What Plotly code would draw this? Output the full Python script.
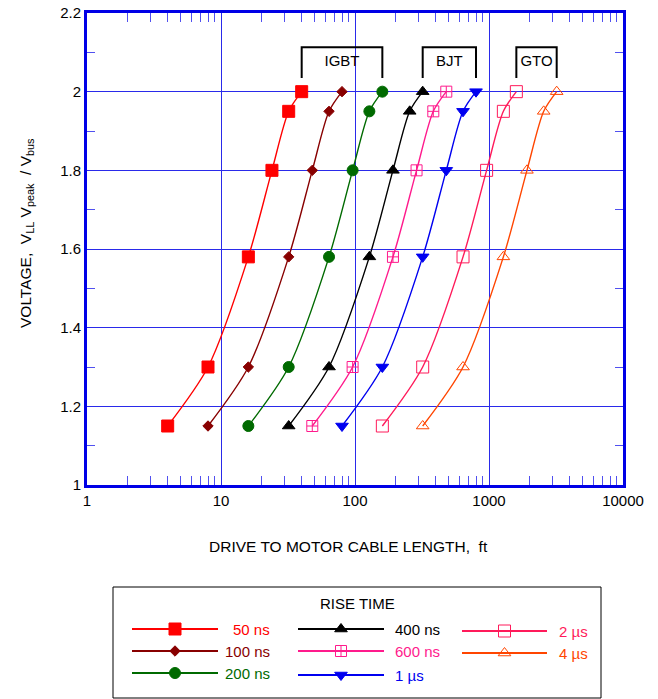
import plotly.graph_objects as go

# ---- data -------------------------------------------------------------
voltage = [1.15, 1.30, 1.58, 1.80, 1.95, 2.00]

rise_times = ["50 ns", "100 ns", "200 ns", "400 ns", "600 ns", "1 µs", "2 µs", "4 µs"]

len_50ns = [4, 8, 16, 24, 32, 40]
len_100ns = [8, 16, 32, 48, 64, 80]
len_200ns = [16, 32, 64, 96, 128, 160]
len_400ns = [32, 64, 128, 192, 256, 320]
len_600ns = [48, 96, 192, 288, 384, 480]
len_1us = [80, 160, 320, 480, 640, 800]
len_2us = [160, 320, 640, 960, 1280, 1600]
len_4us = [320, 640, 1280, 1920, 2560, 3200]

lengths = [len_50ns, len_100ns, len_200ns, len_400ns,
           len_600ns, len_1us, len_2us, len_4us]

x_tick_vals = [1, 10, 100, 1000, 10000]
x_tick_text = ["1", "10", "100", "1000", "10000"]

# device groups: label, first series index, last series index
device_groups = [("IGBT", 0, 2), ("BJT", 3, 5), ("GTO", 6, 7)]

# ---- styling ----------------------------------------------------------
colors = ["#ff0000", "#880000", "#006a00", "#000000",
          "#ff1a8c", "#0000f0", "#ff1a5a", "#ff4500"]
symbols = ["square", "diamond", "circle", "triangle-up",
           "square-cross-open", "triangle-down", "square-open", "triangle-up-open"]
sizes = [12, 8, 11, 11, 11, 11, 12, 11]

W, H = 658, 699
PX_L, PX_R, PX_T, PX_B = 87, 623, 13, 485
FONT = "Liberation Sans, Arial, sans-serif"
AXIS_BLUE = "#0000e6"
GRID_BLUE = "#2a2aea"

fig = go.Figure()

# curves
for name, xs, col, sym, sz in zip(rise_times, lengths, colors, symbols, sizes):
    fig.add_trace(go.Scatter(
        x=xs, y=voltage, mode="lines+markers", name=name,
        line=dict(color=col, width=1.4, shape="spline", smoothing=0.8),
        marker=dict(symbol=sym, size=sz, color=col,
                    line=dict(color=col, width=1)),
        showlegend=False,
    ))

# device brackets above the curve ends
br_lo, br_hi = 2.035, 2.113
for label, i0, i1 in device_groups:
    xa, xb = lengths[i0][-1], lengths[i1][-1]
    fig.add_trace(go.Scatter(
        x=[xa, xa, xb, xb], y=[br_lo, br_hi, br_hi, br_lo],
        mode="lines", line=dict(color="black", width=2),
        showlegend=False, hoverinfo="skip"))
    fig.add_trace(go.Scatter(
        x=[(xa * xb) ** 0.5], y=[2.075], mode="text", text=[label],
        textfont=dict(family=FONT, size=15, color="black"),
        textposition="middle center", showlegend=False, hoverinfo="skip"))

# ---- hand-built legend on a pixel overlay axis ------------------------
col_specs = [  # (line x0, line x1, text x, text anchor)
    (132, 218, 272, "right"),
    (298, 384, 393, "left"),
    (462, 547, 557, "left"),
]
entry_pos = [(0, 629), (0, 651), (0, 673),
             (1, 629), (1, 651), (1, 675),
             (2, 631), (2, 653)]

annotations = []
for k, (cidx, py) in enumerate(entry_pos):
    x0, x1, tx, anchor = col_specs[cidx]
    fig.add_trace(go.Scatter(
        x=[x0, x1], y=[py, py], mode="lines", xaxis="x2", yaxis="y2",
        line=dict(color=colors[k], width=2), showlegend=False, hoverinfo="skip"))
    fig.add_trace(go.Scatter(
        x=[(x0 + x1) / 2], y=[py], mode="markers", xaxis="x2", yaxis="y2",
        marker=dict(symbol=symbols[k], size=sizes[k], color=colors[k],
                    line=dict(color=colors[k], width=1)),
        showlegend=False, hoverinfo="skip"))
    annotations.append(dict(
        x=tx, y=py, xref="x2", yref="y2", text=rise_times[k], showarrow=False,
        xanchor=anchor, yanchor="middle",
        font=dict(family=FONT, size=15, color=colors[k])))

annotations.append(dict(
    x=357, y=603, xref="x2", yref="y2", text="RISE TIME", showarrow=False,
    xanchor="center", yanchor="middle", font=dict(family=FONT, size=15, color="black")))

# axis titles
annotations.append(dict(
    x=348, y=546, xref="x2", yref="y2",
    text="DRIVE TO MOTOR CABLE LENGTH,\u00a0\u00a0ft", showarrow=False,
    xanchor="center", yanchor="middle", font=dict(family=FONT, size=15.5, color="black")))
annotations.append(dict(
    x=26, y=233, xref="x2", yref="y2", textangle=-90,
    text="VOLTAGE,\u00a0\u00a0V<sub>LL</sub> V<sub>peak</sub> \u00a0/ V<sub>bus</sub>",
    showarrow=False, xanchor="center", yanchor="middle",
    font=dict(family=FONT, size=15.5, color="black")))

shapes = [dict(type="rect", xref="x2", yref="y2", x0=113, x1=601, y0=587, y1=698,
               line=dict(color="black", width=1), fillcolor="rgba(0,0,0,0)", layer="below")]

minor_x = [m * 10 ** e for e in range(4) for m in range(2, 10)]

fig.update_layout(
    width=W, height=H,
    margin=dict(l=0, r=0, t=0, b=0),
    paper_bgcolor="white", plot_bgcolor="rgba(0,0,0,0)",
    font=dict(family=FONT, size=15, color="black"),
    xaxis=dict(
        type="log", range=[0, 4], anchor="y",
        domain=[PX_L / W, PX_R / W],
        tickmode="array", tickvals=x_tick_vals, ticktext=x_tick_text,
        ticks="", showline=True, linecolor=AXIS_BLUE, linewidth=3, mirror="allticks",
        showgrid=True, gridcolor=GRID_BLUE, gridwidth=1,
        minor=dict(tickmode="array", tickvals=minor_x, ticks="inside", ticklen=9,
                   tickcolor="#5050f0", tickwidth=1, showgrid=False),
        tickfont=dict(family=FONT, size=15, color="black"),
        zeroline=False, fixedrange=True, automargin=False,
    ),
    yaxis=dict(
        range=[1, 2.2], tick0=1, dtick=0.2, anchor="x",
        domain=[1 - PX_B / H, 1 - PX_T / H],
        ticks="", showline=True, linecolor=AXIS_BLUE, linewidth=3, mirror="allticks",
        showgrid=True, gridcolor=GRID_BLUE, gridwidth=1,
        minor=dict(dtick=0.1, tick0=1, ticks="inside", ticklen=8,
                   tickcolor="#5050f0", tickwidth=1, showgrid=False),
        tickfont=dict(family=FONT, size=15, color="black"),
        zeroline=False, fixedrange=True, automargin=False,
    ),
    xaxis2=dict(domain=[0, 1], range=[0, W], anchor="y2", visible=False,
                fixedrange=True, automargin=False),
    yaxis2=dict(domain=[0, 1], range=[H, 0], anchor="x2", visible=False,
                fixedrange=True, automargin=False),
    annotations=annotations,
    shapes=shapes,
    showlegend=False,
)

fig.write_html("out.html")
